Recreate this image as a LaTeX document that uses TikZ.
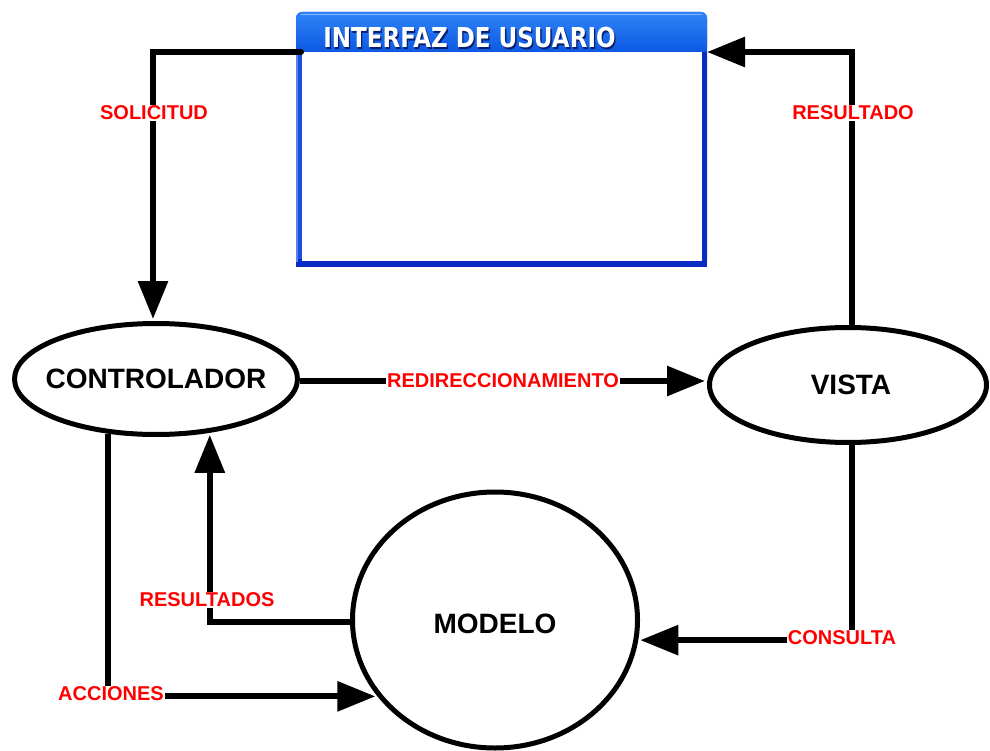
\documentclass[tikz,border=0pt]{standalone}
\usepackage{fontspec}
\setmainfont{Liberation Sans}
\newfontfamily\titlefont{DejaVu Sans}
\usetikzlibrary{arrows.meta,shapes.geometric}
\definecolor{lblred}{RGB}{255,0,0}
\definecolor{bartop}{RGB}{48,132,248}
\definecolor{barbot}{RGB}{12,88,226}
\definecolor{frameblue}{RGB}{24,78,226}
\definecolor{framedark}{RGB}{8,44,196}
\definecolor{shadowblue}{RGB}{8,30,110}
\begin{document}
\begin{tikzpicture}[x=1pt,y=-1pt,
  flow/.style={line width=6pt, -{Triangle[length=38pt,width=29pt]}},
  block/.style={ellipse, draw, line width=5pt, inner sep=0pt},
  blocktext/.style={font=\fontsize{28}{30}\selectfont\bfseries, inner sep=0pt},
  tag/.style={fill=white, inner sep=1pt, text=lblred,
    font=\fontsize{20}{22}\selectfont\bfseries}]
\clip (0,0) rectangle (990,751);

% user interface window
\fill[frameblue, rounded corners=6pt] (296,12) -- (707,12) -- (707,267) -- (296,267) -- cycle;
\shade[top color=bartop, bottom color=barbot, rounded corners=6pt]
  (296,52) -- (296,12) -- (707,12) -- (707,52) -- cycle;
\fill[bartop!60!white] (301,14) rectangle (702,15.5);
\fill[framedark] (296,259) rectangle (707,267);
\fill[framedark] (702,52) rectangle (707,267);
\fill[frameblue!70!white] (296,52) rectangle (298,262);
\fill[white] (302,52) rectangle (702,261);
\node[inner sep=0pt] (ui) at (501.5,139.5) [minimum width=411pt, minimum height=255pt] {};
\coordinate (uiL) at (301,52);
\coordinate (uiR) at (707,52);
\node[text=shadowblue, inner sep=0pt] at (470.8,39.2)
  {\scalebox{0.84}[1]{\titlefont\fontsize{27.4}{30}\selectfont\bfseries INTERFAZ DE USUARIO}};
\node[text=white, inner sep=0pt] (title) at (469.5,38)
  {\scalebox{0.84}[1]{\titlefont\fontsize{27.4}{30}\selectfont\bfseries INTERFAZ DE USUARIO}};

% components
\node[block, minimum width=283pt, minimum height=111pt] (ctrl) at (156,379) {};
\node[blocktext] at (ctrl.center) {CONTROLADOR};
\node[block, minimum width=277pt, minimum height=115pt] (vista) at (848,385) {};
\node[blocktext] at ([xshift=3pt]vista.center) {VISTA};
\node[block, minimum width=285pt, minimum height=256pt] (modelo) at (495,620) {};
\node[blocktext] at ([yshift=-4pt]modelo.center) {MODELO};

% connectors
\draw[flow, line cap=round, shorten >=2pt] (uiL) -| ([xshift=-3pt]ctrl.north);
\draw[flow] ([xshift=4pt]vista.north) |- (uiR);
\draw[flow, shorten >=2pt] ([yshift=-2pt]ctrl.east) -- ([yshift=-2pt]ctrl.east -| vista.west);
\draw[flow, shorten >=2pt] ([yshift=-2pt]modelo.west) -| (ctrl.-45);
\draw[flow, shorten >=2pt] (ctrl.-131) |- (modelo.-147.5);
\draw[flow, shorten >=2pt] ([xshift=4pt]vista.south) |- (modelo.-8);

% labels
\node[tag] (lsol) at (154,113) {SOLICITUD};
\node[tag] (lres) at (853,113) {RESULTADO};
\node[tag] (lred) at (503,381) {REDIRECCIONAMIENTO};
\node[tag] (lress) at (207,600) {RESULTADOS};
\node[tag] (lacc) at (111,694) {ACCIONES};
\node[tag] (lcon) at (842,638) {CONSULTA};
\end{tikzpicture}
\end{document}
